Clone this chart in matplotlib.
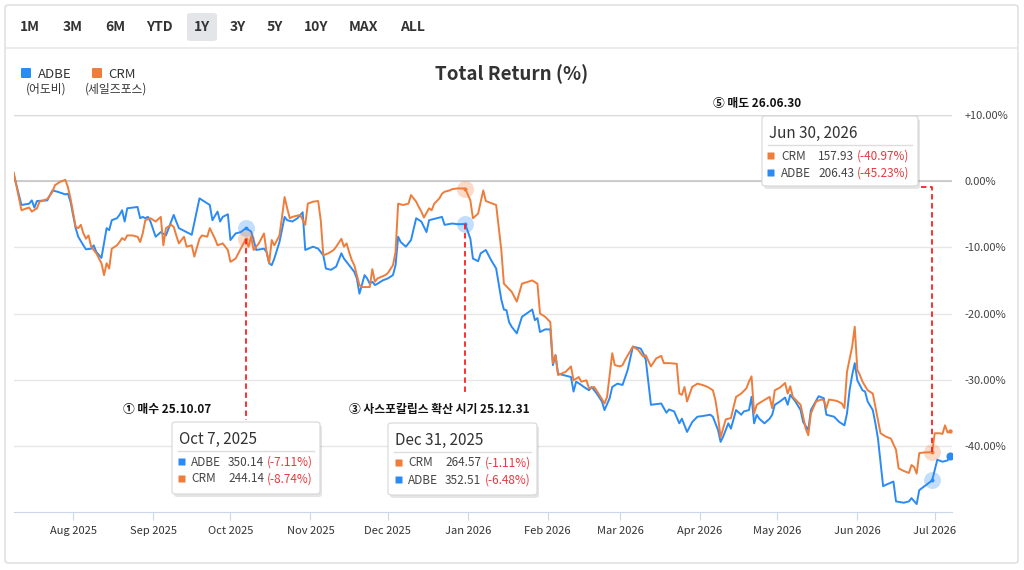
import matplotlib.pyplot as plt
import matplotlib.dates as mdates
from matplotlib.patches import FancyBboxPatch
from matplotlib.lines import Line2D
import pandas as pd

plt.rcParams['font.family'] = ['Noto Sans CJK KR', 'DejaVu Sans']

## data (total return %)

adbe_dates = [
    '2025-07-09', '2025-07-12', '2025-07-15', '2025-07-16', '2025-07-17', '2025-07-18', '2025-07-22', '2025-07-24',
    '2025-07-26', '2025-07-29', '2025-07-30', '2025-07-31', '2025-08-02', '2025-08-03', '2025-08-05', '2025-08-06',
    '2025-08-08', '2025-08-09', '2025-08-10', '2025-08-12', '2025-08-14', '2025-08-15', '2025-08-16', '2025-08-18',
    '2025-08-19', '2025-08-20', '2025-08-21', '2025-08-22', '2025-08-26', '2025-08-27', '2025-08-28', '2025-08-29',
    '2025-08-30', '2025-08-31', '2025-09-02', '2025-09-04', '2025-09-06', '2025-09-09', '2025-09-11', '2025-09-14',
    '2025-09-16', '2025-09-19', '2025-09-23', '2025-09-24', '2025-09-26', '2025-09-27', '2025-09-28', '2025-09-30',
    '2025-10-01', '2025-10-03', '2025-10-05', '2025-10-07', '2025-10-09', '2025-10-10', '2025-10-11', '2025-10-14',
    '2025-10-15', '2025-10-16', '2025-10-17', '2025-10-18', '2025-10-20', '2025-10-22', '2025-10-23', '2025-10-25',
    '2025-10-27', '2025-10-29', '2025-10-30', '2025-11-02', '2025-11-04', '2025-11-06', '2025-11-07', '2025-11-09',
    '2025-11-11', '2025-11-13', '2025-11-14', '2025-11-16', '2025-11-18', '2025-11-19', '2025-11-20', '2025-11-22',
    '2025-11-23', '2025-11-24', '2025-11-25', '2025-11-26', '2025-11-27', '2025-11-29', '2025-12-01', '2025-12-03',
    '2025-12-04', '2025-12-05', '2025-12-06', '2025-12-08', '2025-12-10', '2025-12-12', '2025-12-14', '2025-12-16',
    '2025-12-17', '2025-12-20', '2025-12-22', '2025-12-23', '2025-12-26', '2025-12-28', '2025-12-31', '2026-01-02',
    '2026-01-03', '2026-01-05', '2026-01-06', '2026-01-08', '2026-01-10', '2026-01-12', '2026-01-14', '2026-01-15',
    '2026-01-16', '2026-01-17', '2026-01-18', '2026-01-20', '2026-01-22', '2026-01-26', '2026-01-27', '2026-01-28',
    '2026-01-29', '2026-01-31', '2026-02-02', '2026-02-03', '2026-02-04', '2026-02-05', '2026-02-07', '2026-02-10',
    '2026-02-11', '2026-02-12', '2026-02-14', '2026-02-15', '2026-02-17', '2026-02-18', '2026-02-20', '2026-02-22',
    '2026-02-23', '2026-02-25', '2026-02-26', '2026-02-28', '2026-03-02', '2026-03-04', '2026-03-06', '2026-03-09',
    '2026-03-10', '2026-03-11', '2026-03-13', '2026-03-17', '2026-03-19', '2026-03-20', '2026-03-22', '2026-03-24',
    '2026-03-25', '2026-03-27', '2026-03-29', '2026-03-31', '2026-04-02', '2026-04-05', '2026-04-06', '2026-04-08',
    '2026-04-09', '2026-04-10', '2026-04-12', '2026-04-13', '2026-04-15', '2026-04-17', '2026-04-18', '2026-04-20',
    '2026-04-21', '2026-04-22', '2026-04-23', '2026-04-24', '2026-04-26', '2026-04-28', '2026-04-29', '2026-04-30',
    '2026-05-02', '2026-05-04', '2026-05-05', '2026-05-06', '2026-05-08', '2026-05-10', '2026-05-11', '2026-05-13',
    '2026-05-14', '2026-05-17', '2026-05-19', '2026-05-20', '2026-05-23', '2026-05-25', '2026-05-27', '2026-05-28',
    '2026-05-29', '2026-05-30', '2026-05-31', '2026-06-01', '2026-06-03', '2026-06-04', '2026-06-05', '2026-06-07',
    '2026-06-08', '2026-06-09', '2026-06-11', '2026-06-12', '2026-06-15', '2026-06-16', '2026-06-19', '2026-06-21',
    '2026-06-22', '2026-06-24', '2026-06-25', '2026-06-30', '2026-07-02', '2026-07-04', '2026-07-06', '2026-07-07']
adbe_ret = [
    1.0, -3.6, -3.4, -2.9, -4.0, -3.0, -2.9, -1.4,
    -1.6, -2.0, -1.9, -3.1, -7.1, -8.4, -9.7, -10.3,
    -10.2, -9.7, -10.7, -11.6, -7.1, -7.4, -5.9, -5.6,
    -5.1, -4.4, -6.1, -4.1, -3.9, -5.6, -5.4, -5.6,
    -5.4, -6.1, -8.4, -7.7, -8.2, -5.1, -7.1, -7.7,
    -8.1, -2.6, -3.6, -5.9, -4.6, -6.1, -5.4, -5.0,
    -8.9, -7.9, -7.7, -7.11, -7.6, -8.9, -10.4, -10.2,
    -10.7, -12.4, -12.7, -11.7, -9.2, -5.4, -5.9, -6.1,
    -5.6, -4.7, -10.4, -9.9, -10.2, -11.2, -13.2, -13.4,
    -12.9, -10.9, -11.7, -12.7, -13.7, -14.7, -17.0, -14.2,
    -14.7, -15.5, -15.2, -15.7, -15.5, -15.0, -14.7, -14.2,
    -12.7, -8.4, -9.2, -9.9, -8.9, -5.6, -6.1, -7.7,
    -5.9, -5.6, -5.4, -6.6, -6.4, -6.5, -6.48, -8.7,
    -11.7, -12.1, -10.9, -10.4, -11.9, -13.2, -17.9, -19.4,
    -19.5, -21.3, -22.0, -23.0, -20.5, -19.4, -21.0, -20.7,
    -22.8, -22.4, -22.4, -27.8, -26.3, -29.1, -29.3, -29.6,
    -31.8, -30.3, -30.8, -31.1, -31.6, -31.1, -32.1, -33.3,
    -34.6, -32.8, -31.1, -30.6, -30.8, -28.5, -25.0, -25.3,
    -26.0, -27.0, -33.8, -33.6, -35.0, -34.5, -34.8, -36.6,
    -35.9, -37.9, -36.4, -35.6, -35.5, -35.3, -35.6, -37.6,
    -39.4, -38.6, -36.6, -37.4, -34.6, -35.3, -34.8, -34.6,
    -32.6, -36.6, -35.3, -35.9, -36.6, -35.9, -35.3, -33.8,
    -33.3, -32.7, -33.8, -32.3, -33.3, -34.6, -36.4, -37.6,
    -34.6, -32.5, -32.8, -35.3, -35.6, -36.4, -36.9, -35.1,
    -31.6, -29.3, -27.5, -30.1, -31.6, -31.8, -33.3, -34.6,
    -36.6, -38.9, -46.1, -45.9, -45.4, -48.4, -48.6, -48.4,
    -47.9, -48.8, -46.7, -45.23, -42.1, -42.4, -42.2, -41.5]

crm_dates = [
    '2025-07-09', '2025-07-12', '2025-07-14', '2025-07-15', '2025-07-16', '2025-07-18', '2025-07-19', '2025-07-22',
    '2025-07-24', '2025-07-25', '2025-07-27', '2025-07-29', '2025-07-30', '2025-07-31', '2025-08-02', '2025-08-03',
    '2025-08-04', '2025-08-05', '2025-08-06', '2025-08-07', '2025-08-08', '2025-08-10', '2025-08-12', '2025-08-13',
    '2025-08-14', '2025-08-15', '2025-08-16', '2025-08-18', '2025-08-19', '2025-08-20', '2025-08-21', '2025-08-22',
    '2025-08-24', '2025-08-26', '2025-08-27', '2025-08-28', '2025-08-29', '2025-08-31', '2025-09-02', '2025-09-04',
    '2025-09-05', '2025-09-06', '2025-09-08', '2025-09-09', '2025-09-10', '2025-09-11', '2025-09-13', '2025-09-14',
    '2025-09-16', '2025-09-17', '2025-09-19', '2025-09-20', '2025-09-22', '2025-09-23', '2025-09-25', '2025-09-26',
    '2025-09-28', '2025-09-30', '2025-10-01', '2025-10-03', '2025-10-05', '2025-10-07', '2025-10-08', '2025-10-09',
    '2025-10-10', '2025-10-12', '2025-10-14', '2025-10-15', '2025-10-16', '2025-10-17', '2025-10-18', '2025-10-20',
    '2025-10-21', '2025-10-22', '2025-10-23', '2025-10-24', '2025-10-25', '2025-10-26', '2025-10-28', '2025-10-30',
    '2025-10-31', '2025-11-02', '2025-11-04', '2025-11-05', '2025-11-06', '2025-11-08', '2025-11-10', '2025-11-11',
    '2025-11-13', '2025-11-14', '2025-11-15', '2025-11-16', '2025-11-17', '2025-11-18', '2025-11-20', '2025-11-21',
    '2025-11-24', '2025-11-25', '2025-11-26', '2025-11-27', '2025-11-30', '2025-12-01', '2025-12-03', '2025-12-04',
    '2025-12-05', '2025-12-07', '2025-12-09', '2025-12-10', '2025-12-12', '2025-12-13', '2025-12-14', '2025-12-15',
    '2025-12-17', '2025-12-18', '2025-12-19', '2025-12-21', '2025-12-22', '2025-12-23', '2025-12-25', '2025-12-26',
    '2025-12-28', '2025-12-31', '2026-01-02', '2026-01-03', '2026-01-05', '2026-01-07', '2026-01-08', '2026-01-12',
    '2026-01-14', '2026-01-15', '2026-01-18', '2026-01-20', '2026-01-22', '2026-01-26', '2026-01-28', '2026-01-29',
    '2026-01-31', '2026-02-02', '2026-02-03', '2026-02-04', '2026-02-05', '2026-02-08', '2026-02-10', '2026-02-11',
    '2026-02-13', '2026-02-14', '2026-02-16', '2026-02-17', '2026-02-19', '2026-02-21', '2026-02-23', '2026-02-24',
    '2026-02-26', '2026-02-27', '2026-03-01', '2026-03-02', '2026-03-03', '2026-03-06', '2026-03-08', '2026-03-10',
    '2026-03-11', '2026-03-13', '2026-03-15', '2026-03-17', '2026-03-18', '2026-03-20', '2026-03-23', '2026-03-24',
    '2026-03-25', '2026-03-26', '2026-03-27', '2026-03-29', '2026-03-31', '2026-04-02', '2026-04-04', '2026-04-06',
    '2026-04-07', '2026-04-08', '2026-04-09', '2026-04-11', '2026-04-13', '2026-04-15', '2026-04-17', '2026-04-19',
    '2026-04-20', '2026-04-21', '2026-04-22', '2026-04-23', '2026-04-25', '2026-04-28', '2026-04-29', '2026-04-30',
    '2026-05-02', '2026-05-04', '2026-05-05', '2026-05-06', '2026-05-07', '2026-05-10', '2026-05-12', '2026-05-13',
    '2026-05-14', '2026-05-16', '2026-05-18', '2026-05-19', '2026-05-20', '2026-05-21', '2026-05-24', '2026-05-26',
    '2026-05-27', '2026-05-28', '2026-05-30', '2026-05-31', '2026-06-01', '2026-06-02', '2026-06-03', '2026-06-05',
    '2026-06-07', '2026-06-08', '2026-06-10', '2026-06-12', '2026-06-14', '2026-06-16', '2026-06-17', '2026-06-19',
    '2026-06-21', '2026-06-22', '2026-06-23', '2026-06-24', '2026-06-25', '2026-06-27', '2026-06-30', '2026-07-01',
    '2026-07-03', '2026-07-04', '2026-07-05', '2026-07-06', '2026-07-07']
crm_ret = [
    1.3, -4.4, -4.1, -4.0, -4.6, -4.1, -3.1, -2.7,
    -1.6, -0.6, -0.1, 0.2, -0.9, -2.6, -6.9, -7.1,
    -6.6, -7.9, -8.7, -8.2, -9.9, -10.9, -12.4, -14.2,
    -12.4, -13.2, -10.2, -9.7, -9.2, -8.6, -8.9, -8.2,
    -8.2, -8.4, -9.2, -7.9, -5.9, -5.6, -6.1, -5.4,
    -9.7, -7.1, -6.6, -6.9, -8.2, -9.4, -8.4, -9.9,
    -9.7, -11.4, -8.7, -8.2, -8.4, -7.1, -8.7, -9.7,
    -9.4, -10.4, -12.2, -11.7, -10.2, -8.74, -9.9, -8.4,
    -10.4, -9.4, -7.9, -10.7, -12.4, -8.9, -9.7, -8.2,
    -5.4, -2.4, -4.1, -5.6, -5.4, -5.3, -5.1, -6.6,
    -3.4, -3.1, -3.0, -5.9, -11.2, -10.9, -10.4, -9.9,
    -8.7, -9.9, -9.4, -10.7, -11.9, -12.7, -15.7, -16.0,
    -16.0, -13.3, -15.2, -14.7, -14.2, -13.9, -12.7, -10.7,
    -3.4, -3.6, -3.4, -2.1, -3.1, -3.9, -4.6, -5.5,
    -4.1, -4.4, -3.4, -2.6, -1.9, -1.6, -1.4, -1.2,
    -1.1, -1.11, -2.9, -5.6, -4.9, -1.4, -3.0, -3.6,
    -10.4, -15.5, -16.7, -18.2, -15.5, -15.0, -15.5, -20.0,
    -20.5, -21.3, -27.5, -26.3, -29.3, -28.8, -28.0, -30.1,
    -29.6, -30.3, -30.1, -31.3, -31.1, -32.3, -33.6, -32.6,
    -26.0, -27.8, -28.0, -27.8, -27.0, -25.0, -25.5, -26.5,
    -26.3, -28.0, -26.8, -26.4, -27.5, -27.5, -27.6, -32.1,
    -32.3, -31.1, -33.3, -31.1, -30.6, -30.8, -31.1, -31.6,
    -33.1, -35.6, -38.7, -36.0, -35.8, -32.6, -32.1, -31.3,
    -30.3, -29.5, -35.1, -33.8, -33.3, -32.6, -34.3, -31.6,
    -31.2, -30.5, -32.1, -31.0, -32.6, -33.8, -37.4, -38.4,
    -35.1, -33.3, -33.0, -33.1, -34.3, -33.0, -33.2, -33.6,
    -34.3, -28.8, -25.0, -22.0, -28.5, -29.3, -30.3, -31.6,
    -32.1, -34.1, -38.1, -38.6, -38.9, -40.6, -43.4, -43.8,
    -44.1, -42.9, -43.2, -44.2, -41.1, -41.0, -40.97, -38.1,
    -38.1, -38.2, -36.9, -38.0, -37.8]

event_dates = ['2025-10-07', '2025-12-31', '2026-06-30']
event_labels = ['① 매수 25.10.07', '③ 사스포칼립스 확산 시기 25.12.31', '⑤ 매도 26.06.30']
tip_titles = ['Oct 7, 2025', 'Dec 31, 2025', 'Jun 30, 2026']
tip_rows = [
    [('ADBE', '350.14', '(-7.11%)'), ('CRM', '244.14', '(-8.74%)')],
    [('CRM', '264.57', '(-1.11%)'), ('ADBE', '352.51', '(-6.48%)')],
    [('CRM', '157.93', '(-40.97%)'), ('ADBE', '206.43', '(-45.23%)')],
]
ranges = ['1M', '3M', '6M', 'YTD', '1Y', '3Y', '5Y', '10Y', 'MAX', 'ALL']

BLUE = '#2a8af6'
ORANGE = '#ee7d3b'
RED = '#ff1f1f'
colors = {'ADBE': BLUE, 'CRM': ORANGE}

W, H = 1024, 570
fig = plt.figure(figsize=(W / 100, H / 100), dpi=100)
fig.patch.set_facecolor('white')


def fx(px):
    return px / W


def fy(py):
    return 1 - py / H


def ftext(x, y, s, **kw):
    return fig.text(fx(x), fy(y), s, **kw)


def fbox(x0, y0, x1, y1, r=0.004, **kw):
    p = FancyBboxPatch((fx(x0), fy(y1)), fx(x1 - x0), (y1 - y0) / H,
                       boxstyle=f'round,pad=0,rounding_size={r}',
                       transform=fig.transFigure, **kw)
    fig.patches.append(p)
    return p


# outer panel + range buttons
fbox(5, 5, 1018, 563, fc='none', ec='#dcdcdc', lw=1)
fig.lines.append(Line2D([fx(6), fx(1017)], [fy(48), fy(48)], transform=fig.transFigure,
                        color='#e8e8e8', lw=1.2))
btn_x = [30, 73, 115, 159, 202, 238, 275, 316, 364, 413]
for lab, bx in zip(ranges, btn_x):
    if lab == '1Y':
        fbox(187, 13, 217, 41, fc='#e4e5e8', ec='none')
    ftext(bx, 27, lab, ha='center', va='center', fontsize=10, fontweight='bold', color='#333333')

# legend + title
fbox(21, 68, 31, 78, r=0.0015, fc=BLUE, ec='none')
ftext(38, 74, 'ADBE', va='center', fontsize=9.5, color='#333333')
ftext(46, 89, '(어도비)', ha='center', va='center', fontsize=8.5, color='#333333')
fbox(92, 68, 102, 78, r=0.0015, fc=ORANGE, ec='none')
ftext(108, 74, 'CRM', va='center', fontsize=9.5, color='#333333')
ftext(116, 89, '(세일즈포스)', ha='center', va='center', fontsize=8.5, color='#333333')
ftext(512, 74, 'Total Return (%)', ha='center', va='center', fontsize=13.5, fontweight='bold', color='#333333')

# main axes
ax = fig.add_axes([fx(14), fy(512), fx(952) - fx(14), (512 - 115) / H])
adbe_x = pd.to_datetime(adbe_dates)
crm_x = pd.to_datetime(crm_dates)
ax.plot(adbe_x, adbe_ret, color=BLUE, lw=1.4, zorder=3)
ax.plot(crm_x, crm_ret, color=ORANGE, lw=1.4, zorder=3)

x0 = mdates.date2num(pd.Timestamp('2025-08-01'))
ax.set_xlim(x0 - 22.9, x0 + 340.7)
ax.set_ylim(-50, 10)

ax.set_yticks([-40, -30, -20, -10, 0, 10])
ax.yaxis.set_major_formatter(plt.FuncFormatter(lambda v, p: f'+{v:.2f}%' if v > 0 else f'{v:.2f}%'))
ax.yaxis.tick_right()
ax.tick_params(axis='y', length=0, pad=9, labelsize=8, labelcolor='#444444')
ax.grid(axis='y', color='#e6e6e6', lw=1)
ax.axhline(0, color='#c9c9c9', lw=1.3, zorder=1)
ax.axhline(10, color='#dadada', lw=1, zorder=1)

ax.xaxis.set_major_locator(mdates.MonthLocator())
ax.xaxis.set_major_formatter(mdates.DateFormatter('%b %Y'))
ax.tick_params(axis='x', length=6, color='#ccd6eb', pad=4, labelsize=8, labelcolor='#333333')
for lbl in ax.get_xticklabels():
    lbl.set_fontweight('medium')
for s in ['top', 'left', 'right']:
    ax.spines[s].set_visible(False)
ax.spines['bottom'].set_color('#ccd6eb')
ax.set_axisbelow(True)

# event markers
adbe_s = pd.Series(adbe_ret, index=adbe_x)
crm_s = pd.Series(crm_ret, index=crm_x)
ev = pd.to_datetime(event_dates)
for d in ev:
    for s, c in [(adbe_s, BLUE), (crm_s, ORANGE)]:
        ax.scatter([d], [s[d]], s=150, color=c, alpha=0.28, lw=0, zorder=4)
        ax.scatter([d], [s[d]], s=8, color=c, lw=0, zorder=5)
ax.scatter([adbe_x[-1]], [adbe_ret[-1]], s=34, color=BLUE, lw=0, zorder=5)
ax.scatter([crm_x[-1]], [crm_ret[-1]], s=10, color=ORANGE, lw=0, zorder=5)

# red dashed guide lines
dash = dict(color=RED, lw=1.3, dashes=(3, 2), zorder=6)
ax.plot([ev[0], ev[0]], [crm_s[ev[0]], -36.1], **dash)
ax.plot([ev[1], ev[1]], [adbe_s[ev[1]], -32.3], **dash)
ax.plot([ev[2] - pd.Timedelta(days=4.5), ev[2], ev[2]], [-0.9, -0.9, crm_s[ev[2]]], **dash)
for a in ax.lines[-3:]:
    a.set_clip_on(False)

# annotation labels
lab_pos = [(123, 410), (349, 410), (713, 104)]
for (lx, ly), t in zip(lab_pos, event_labels):
    ftext(lx, ly, t, va='center', fontsize=8.5, fontweight='bold', color='#111111')

# tooltips
tip_boxes = [(172, 422, 320, 494), (388, 423, 537, 495), (762, 116, 918, 186)]
tip_cols = [(182, 191, 228, 267), (399, 408, 445, 485), (771, 781, 818, 857)]
for (bx0, by0, bx1, by1), (sq, nx, px, qx), title, rows in zip(tip_boxes, tip_cols, tip_titles, tip_rows):
    fbox(bx0 + 2, by0 + 3, bx1 + 2, by1 + 3, fc='#000000', ec='none', alpha=0.10)
    fbox(bx0, by0, bx1, by1, fc='white', ec='#d6d6d6', lw=0.8)
    ftext(bx0 + 7, by0 + 17, title, va='center', fontsize=11, fontweight='medium', color='#333333')
    fig.lines.append(Line2D([fx(bx0 + 6), fx(bx1 - 6)], [fy(by0 + 29)] * 2,
                            transform=fig.transFigure, color='#dddddd', lw=1))
    for i, (name, price, pct) in enumerate(rows):
        ry = by0 + 40 + i * 17
        fbox(sq - 3.5, ry - 3.5, sq + 3.5, ry + 3.5, r=0.0005, fc=colors[name], ec='none')
        ftext(nx, ry, name, va='center', fontsize=8.5, color='#444444')
        ftext(px, ry, price, va='center', fontsize=8.5, color='#444444')
        ftext(qx, ry, pct, va='center', fontsize=8.5, color='#e8383d')

fig.savefig('out.png', dpi=100)
